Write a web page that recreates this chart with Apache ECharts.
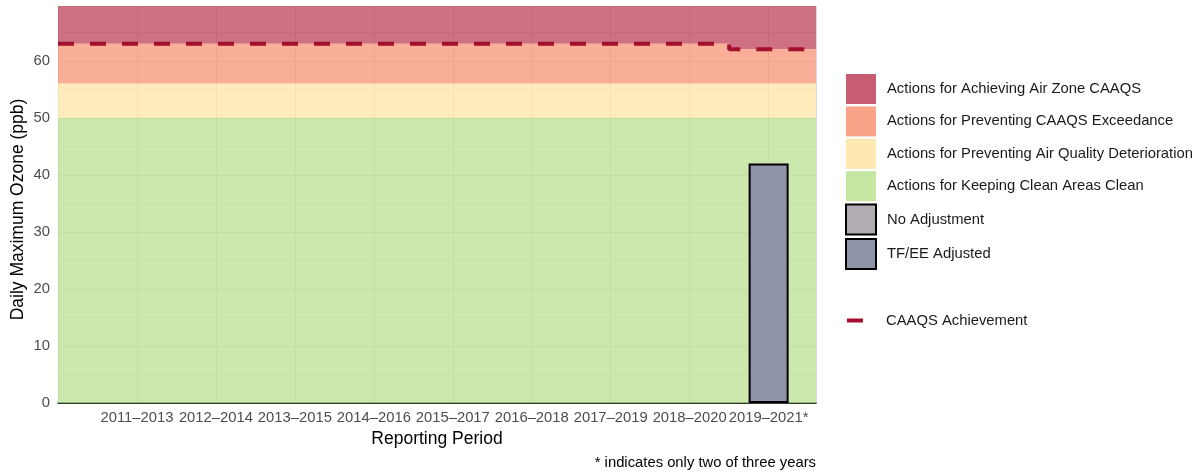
<!DOCTYPE html>
<html>
<head>
<meta charset="utf-8">
<script src="https://cdn.jsdelivr.net/npm/echarts@6/dist/echarts.min.js"></script>
<style>
    html, body { margin: 0; padding: 0; background: #fff; }
    #chart { width: 1203px; height: 472px; }
</style>
</head>
<body>
<div id="chart"></div>
<script>
// reporting periods, placed at x = 1..9 on the axis
const periods = ['2011–2013', '2012–2014', '2013–2015', '2014–2016', '2015–2017',
    '2016–2018', '2017–2019', '2018–2020', '2019–2021*'];
// CAAQS achievement level per period (ppb)
const caaqs = [63, 63, 63, 63, 63, 63, 63, 63, 62];
// 4th highest daily max ozone, split by adjustment type
const noAdjustment = [null, null, null, null, null, null, null, null, null];
const tfeeAdjusted = [null, null, null, null, null, null, null, null, 42];
// management level bands: green up to 50, yellow up to 56, orange up to CAAQS, red above
const bandNames = ['Actions for Achieving Air Zone CAAQS', 'Actions for Preventing CAAQS Exceedance',
    'Actions for Preventing Air Quality Deterioration', 'Actions for Keeping Clean Areas Clean'];
const bandColors = ['#b8354f', '#f78c6b', '#fee49f', '#b7e08a'];
const bandBreaks = [0, 50, 56];
const yTicks = [0, 10, 20, 30, 40, 50, 60];

const xMin = 0;
const xMax = 9.6;
const yMax = 69.6;
const font = 'Liberation Sans, Arial, sans-serif';
const fs = 14.8;

const toPoints = arr => arr.map((v, i) => [i + 1, v]).filter(p => p[1] != null);

// step line across the whole panel (switches halfway between periods)
const caaqsLine = [[xMin, caaqs[0]]].concat(caaqs.map((v, i) => [i + 1, v]), [[xMax, caaqs[caaqs.length - 1]]]);

// legend entries for the bands; green and yellow are plain rectangles
const bandAreas = [
    [],
    [],
    [[{ xAxis: xMin, yAxis: bandBreaks[1] }, { xAxis: xMax, yAxis: bandBreaks[2] }]],
    [[{ xAxis: xMin, yAxis: bandBreaks[0] }, { xAxis: xMax, yAxis: bandBreaks[1] }]]
];

const series = bandNames.map((name, k) => ({
    name: name,
    type: 'scatter',
    data: [],
    itemStyle: { color: bandColors[k] },
    markArea: {
        silent: true,
        itemStyle: { color: bandColors[k], opacity: 0.7 },
        data: bandAreas[k]
    },
    z: 1
}));

// red and orange bands follow the CAAQS step
series.push({
    type: 'line',
    data: caaqsLine,
    step: 'middle',
    symbol: 'none',
    silent: true,
    lineStyle: { width: 0, opacity: 0 },
    areaStyle: { color: bandColors[0], opacity: 0.7, origin: 'end' },
    z: 1
});
series.push({
    type: 'line',
    data: caaqsLine,
    step: 'middle',
    symbol: 'none',
    silent: true,
    lineStyle: { width: 0, opacity: 0 },
    areaStyle: { color: bandColors[1], opacity: 0.7, origin: bandBreaks[2] },
    z: 1
});

series.push({
    name: 'No Adjustment',
    type: 'bar',
    data: toPoints(noAdjustment),
    barWidth: 40,
    barGap: '-100%',
    itemStyle: { color: '#b2acb3', borderColor: '#000', borderWidth: 2 },
    z: 4
});
series.push({
    name: 'TF/EE Adjusted',
    type: 'bar',
    data: toPoints(tfeeAdjusted),
    barWidth: 40,
    barGap: '-100%',
    itemStyle: { color: '#8f94a8', borderColor: '#000', borderWidth: 2 },
    z: 4
});
series.push({
    name: 'CAAQS Achievement',
    type: 'line',
    data: caaqsLine,
    step: 'middle',
    symbol: 'none',
    itemStyle: { color: '#a50f2e' },
    lineStyle: { color: '#a50f2e', width: 4, type: [16, 16], cap: 'butt' },
    z: 5
});

const option = {
    animation: false,
    textStyle: { fontFamily: font },
    grid: { left: 58, right: 387, top: 6, bottom: 69, outerBoundsMode: 'none' },
    xAxis: {
        type: 'value',
        min: xMin,
        max: xMax,
        interval: 1,
        name: 'Reporting Period',
        nameLocation: 'middle',
        nameGap: 26,
        nameTextStyle: { fontSize: 17.5, color: '#000', fontFamily: font },
        axisLine: { show: true, onZero: false, lineStyle: { color: '#000', width: 1.5 } },
        axisTick: { show: false },
        axisLabel: {
            fontSize: fs,
            color: '#4d4d4d',
            margin: 7,
            showMinLabel: true,
            showMaxLabel: true,
            formatter(v) {
                return Number.isInteger(v) && v >= 1 && v <= periods.length ? periods[v - 1] : '';
            }
        },
        splitLine: { show: true, lineStyle: { color: '#dcdcdc', width: 1 } }
    },
    yAxis: {
        type: 'value',
        min: 0,
        max: yMax,
        interval: 5,
        name: 'Daily Maximum Ozone (ppb)',
        nameLocation: 'middle',
        nameGap: 31,
        nameMoveOverlap: false,
        nameTextStyle: { fontSize: 17.5, color: '#000', fontFamily: font, padding: [0, 10, 0, 0] },
        axisLine: { show: false },
        axisTick: { show: false },
        axisLabel: {
            fontSize: fs,
            color: '#4d4d4d',
            margin: 8,
            formatter(v) {
                return yTicks.indexOf(v) >= 0 ? String(v) : '';
            }
        },
        splitLine: { show: true, lineStyle: { color: ['#dcdcdc', '#e8e8e8'], width: 1 } }
    },
    legend: [
        {
            data: bandNames.concat(['No Adjustment', 'TF/EE Adjusted']),
            orient: 'vertical',
            left: 845,
            top: 74,
            padding: 0,
            icon: 'rect',
            itemWidth: 30,
            itemHeight: 30,
            itemGap: 2.4,
            selectedMode: false,
            textStyle: { fontSize: fs, color: '#1a1a1a', fontFamily: font, padding: [0, 0, 0, 6] }
        },
        {
            data: ['CAAQS Achievement'],
            orient: 'vertical',
            left: 847,
            top: 313,
            padding: 0,
            icon: 'rect',
            itemWidth: 16,
            itemHeight: 4,
            selectedMode: false,
            textStyle: { fontSize: fs, color: '#1a1a1a', fontFamily: font, padding: [0, 0, 0, 18] }
        }
    ],
    graphic: [
        {
            type: 'text',
            right: 387,
            top: 455,
            style: { text: '* indicates only two of three years', fontSize: fs, fill: '#000', fontFamily: font }
        }
    ],
    series: series
};

const chart = echarts.init(document.getElementById('chart'));
chart.setOption(option);
</script>
</body>
</html>
